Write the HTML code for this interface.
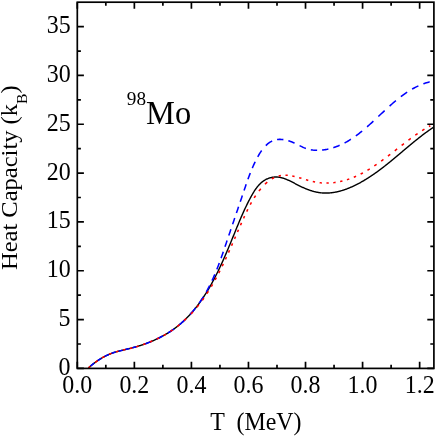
<!DOCTYPE html>
<html><head><meta charset="utf-8"><title>98Mo heat capacity</title>
<style>
html,body{margin:0;padding:0;background:#fff;}
body{width:436px;height:436px;overflow:hidden;}
svg{display:block;} .t{filter:grayscale(1);}
text{font-family:"Liberation Serif",serif;fill:#000;}
</style></head><body>
<svg width="436" height="436" viewBox="0 0 436 436">
<rect width="436" height="436" fill="#fff"/>
<g fill="none" stroke-linejoin="round">
<path d="M88.42,367.92 L88.92,367.47 L89.42,367.03 L89.92,366.60 L90.42,366.17 L90.92,365.75 L91.42,365.34 L91.92,364.93 L92.42,364.53 L92.92,364.13 L93.42,363.74 L93.92,363.35 L94.42,362.97 L94.92,362.60 L95.42,362.23 L95.92,361.87 L96.42,361.51 L96.92,361.16 L97.42,360.82 L97.92,360.48 L98.42,360.14 L98.92,359.82 L99.42,359.49 L99.92,359.17 L100.42,358.86 L100.92,358.56 L101.42,358.25 L101.92,357.96 L102.42,357.67 L102.92,357.38 L103.42,357.10 L103.92,356.83 L104.42,356.56 L104.92,356.30 L105.42,356.04 L105.92,355.79 L106.42,355.55 L106.92,355.31 L107.42,355.07 L107.92,354.84 L108.42,354.62 L108.92,354.40 L109.42,354.19 L109.92,353.98 L110.42,353.78 L110.92,353.59 L111.42,353.40 L111.92,353.21 L112.42,353.04 L112.92,352.86 L113.42,352.69 L113.92,352.53 L114.42,352.37 L114.92,352.21 L115.42,352.06 L115.92,351.91 L116.42,351.76 L116.92,351.62 L117.42,351.48 L117.92,351.34 L118.42,351.21 L118.92,351.07 L119.42,350.94 L119.92,350.82 L120.42,350.69 L120.92,350.57 L121.42,350.44 L121.92,350.32 L122.42,350.20 L122.92,350.09 L123.42,349.97 L123.92,349.85 L124.42,349.73 L124.92,349.62 L125.42,349.50 L125.92,349.39 L126.42,349.27 L126.92,349.15 L127.42,349.04 L127.92,348.92 L128.42,348.80 L128.92,348.68 L129.42,348.56 L129.92,348.44 L130.42,348.32 L130.92,348.19 L131.42,348.07 L131.92,347.94 L132.42,347.81 L132.92,347.68 L133.42,347.54 L133.92,347.41 L134.42,347.27 L134.92,347.13 L135.42,346.99 L135.92,346.85 L136.42,346.70 L136.92,346.56 L137.42,346.41 L137.92,346.26 L138.42,346.10 L138.92,345.95 L139.42,345.79 L139.92,345.64 L140.42,345.48 L140.92,345.31 L141.42,345.15 L141.92,344.98 L142.42,344.82 L142.92,344.65 L143.42,344.47 L143.92,344.30 L144.42,344.12 L144.92,343.94 L145.42,343.76 L145.92,343.58 L146.42,343.40 L146.92,343.21 L147.42,343.02 L147.92,342.83 L148.42,342.63 L148.92,342.44 L149.42,342.24 L149.92,342.04 L150.42,341.84 L150.92,341.63 L151.42,341.42 L151.92,341.21 L152.42,341.00 L152.92,340.79 L153.42,340.57 L153.92,340.35 L154.42,340.13 L154.92,339.90 L155.42,339.67 L155.92,339.44 L156.42,339.21 L156.92,338.97 L157.42,338.73 L157.92,338.49 L158.42,338.25 L158.92,338.00 L159.42,337.75 L159.92,337.50 L160.42,337.24 L160.92,336.98 L161.42,336.72 L161.92,336.46 L162.42,336.19 L162.92,335.92 L163.42,335.64 L163.92,335.36 L164.42,335.08 L164.92,334.80 L165.42,334.51 L165.92,334.22 L166.42,333.92 L166.92,333.62 L167.42,333.32 L167.92,333.01 L168.42,332.70 L168.92,332.39 L169.42,332.07 L169.92,331.74 L170.42,331.42 L170.92,331.09 L171.42,330.75 L171.92,330.41 L172.42,330.07 L172.92,329.72 L173.42,329.36 L173.92,329.00 L174.42,328.64 L174.92,328.27 L175.42,327.90 L175.92,327.52 L176.42,327.14 L176.92,326.75 L177.42,326.35 L177.92,325.95 L178.42,325.55 L178.92,325.14 L179.42,324.73 L179.92,324.31 L180.42,323.88 L180.92,323.45 L181.42,323.01 L181.92,322.57 L182.42,322.12 L182.92,321.67 L183.42,321.21 L183.92,320.74 L184.42,320.27 L184.92,319.79 L185.42,319.31 L185.92,318.82 L186.42,318.32 L186.92,317.82 L187.42,317.31 L187.92,316.80 L188.42,316.28 L188.92,315.75 L189.42,315.22 L189.92,314.67 L190.42,314.13 L190.92,313.57 L191.42,313.01 L191.92,312.44 L192.42,311.86 L192.92,311.28 L193.42,310.69 L193.92,310.09 L194.42,309.49 L194.92,308.88 L195.42,308.26 L195.92,307.63 L196.42,307.00 L196.92,306.35 L197.42,305.70 L197.92,305.05 L198.42,304.38 L198.92,303.71 L199.42,303.02 L199.92,302.33 L200.42,301.63 L200.92,300.93 L201.42,300.21 L201.92,299.49 L202.42,298.76 L202.92,298.01 L203.42,297.26 L203.92,296.51 L204.42,295.74 L204.92,294.96 L205.42,294.18 L205.92,293.38 L206.42,292.58 L206.92,291.77 L207.42,290.94 L207.92,290.11 L208.42,289.27 L208.92,288.42 L209.42,287.56 L209.92,286.69 L210.42,285.81 L210.92,284.93 L211.42,284.03 L211.92,283.12 L212.42,282.20 L212.92,281.28 L213.42,280.34 L213.92,279.39 L214.42,278.44 L214.92,277.47 L215.42,276.50 L215.92,275.51 L216.42,274.52 L216.92,273.51 L217.42,272.50 L217.92,271.47 L218.42,270.44 L218.92,269.40 L219.42,268.35 L219.92,267.28 L220.42,266.21 L220.92,265.14 L221.42,264.05 L221.92,262.95 L222.42,261.84 L222.92,260.73 L223.42,259.61 L223.92,258.48 L224.42,257.34 L224.92,256.20 L225.42,255.04 L225.92,253.89 L226.42,252.72 L226.92,251.55 L227.42,250.37 L227.92,249.18 L228.42,247.99 L228.92,246.80 L229.42,245.60 L229.92,244.40 L230.42,243.19 L230.92,241.98 L231.42,240.76 L231.92,239.55 L232.42,238.33 L232.92,237.11 L233.42,235.89 L233.92,234.66 L234.42,233.44 L234.92,232.22 L235.42,231.00 L235.92,229.78 L236.42,228.56 L236.92,227.35 L237.42,226.13 L237.92,224.93 L238.42,223.72 L238.92,222.52 L239.42,221.33 L239.92,220.14 L240.42,218.96 L240.92,217.79 L241.42,216.63 L241.92,215.48 L242.42,214.35 L242.92,213.22 L243.42,212.10 L243.92,211.00 L244.42,209.91 L244.92,208.83 L245.42,207.77 L245.92,206.72 L246.42,205.68 L246.92,204.66 L247.42,203.64 L247.92,202.65 L248.42,201.66 L248.92,200.68 L249.42,199.72 L249.92,198.77 L250.42,197.83 L250.92,196.91 L251.42,196.00 L251.92,195.11 L252.42,194.23 L252.92,193.38 L253.42,192.55 L253.92,191.75 L254.42,190.97 L254.92,190.21 L255.42,189.47 L255.92,188.76 L256.42,188.08 L256.92,187.42 L257.42,186.78 L257.92,186.17 L258.42,185.58 L258.92,185.02 L259.42,184.48 L259.92,183.97 L260.42,183.48 L260.92,183.01 L261.42,182.56 L261.92,182.14 L262.42,181.74 L262.92,181.36 L263.42,181.00 L263.92,180.66 L264.42,180.34 L264.92,180.03 L265.42,179.75 L265.92,179.48 L266.42,179.23 L266.92,178.99 L267.42,178.77 L267.92,178.56 L268.42,178.37 L268.92,178.19 L269.42,178.02 L269.92,177.87 L270.42,177.73 L270.92,177.60 L271.42,177.49 L271.92,177.39 L272.42,177.30 L272.92,177.22 L273.42,177.15 L273.92,177.10 L274.42,177.06 L274.92,177.03 L275.42,177.01 L275.92,177.00 L276.42,177.01 L276.92,177.03 L277.42,177.06 L277.92,177.10 L278.42,177.16 L278.92,177.22 L279.42,177.30 L279.92,177.39 L280.42,177.49 L280.92,177.60 L281.42,177.72 L281.92,177.84 L282.42,177.98 L282.92,178.13 L283.42,178.29 L283.92,178.45 L284.42,178.62 L284.92,178.80 L285.42,178.99 L285.92,179.19 L286.42,179.39 L286.92,179.60 L287.42,179.81 L287.92,180.03 L288.42,180.25 L288.92,180.48 L289.42,180.72 L289.92,180.96 L290.42,181.20 L290.92,181.45 L291.42,181.70 L291.92,181.95 L292.42,182.20 L292.92,182.46 L293.42,182.72 L293.92,182.98 L294.42,183.24 L294.92,183.50 L295.42,183.76 L295.92,184.02 L296.42,184.29 L296.92,184.55 L297.42,184.81 L297.92,185.06 L298.42,185.32 L298.92,185.58 L299.42,185.83 L299.92,186.08 L300.42,186.32 L300.92,186.57 L301.42,186.81 L301.92,187.04 L302.42,187.28 L302.92,187.51 L303.42,187.73 L303.92,187.95 L304.42,188.17 L304.92,188.39 L305.42,188.60 L305.92,188.80 L306.42,189.00 L306.92,189.20 L307.42,189.40 L307.92,189.59 L308.42,189.77 L308.92,189.95 L309.42,190.13 L309.92,190.30 L310.42,190.47 L310.92,190.63 L311.42,190.79 L311.92,190.94 L312.42,191.09 L312.92,191.23 L313.42,191.37 L313.92,191.51 L314.42,191.63 L314.92,191.76 L315.42,191.88 L315.92,191.99 L316.42,192.10 L316.92,192.20 L317.42,192.30 L317.92,192.39 L318.42,192.47 L318.92,192.55 L319.42,192.63 L319.92,192.70 L320.42,192.76 L320.92,192.82 L321.42,192.87 L321.92,192.91 L322.42,192.95 L322.92,192.99 L323.42,193.01 L323.92,193.04 L324.42,193.05 L324.92,193.07 L325.42,193.07 L325.92,193.07 L326.42,193.07 L326.92,193.06 L327.42,193.04 L327.92,193.02 L328.42,193.00 L328.92,192.97 L329.42,192.93 L329.92,192.89 L330.42,192.85 L330.92,192.80 L331.42,192.74 L331.92,192.69 L332.42,192.62 L332.92,192.55 L333.42,192.48 L333.92,192.40 L334.42,192.32 L334.92,192.23 L335.42,192.14 L335.92,192.04 L336.42,191.94 L336.92,191.83 L337.42,191.72 L337.92,191.61 L338.42,191.49 L338.92,191.37 L339.42,191.24 L339.92,191.11 L340.42,190.98 L340.92,190.84 L341.42,190.69 L341.92,190.55 L342.42,190.39 L342.92,190.24 L343.42,190.08 L343.92,189.92 L344.42,189.75 L344.92,189.58 L345.42,189.40 L345.92,189.22 L346.42,189.04 L346.92,188.85 L347.42,188.66 L347.92,188.47 L348.42,188.27 L348.92,188.07 L349.42,187.87 L349.92,187.66 L350.42,187.45 L350.92,187.23 L351.42,187.02 L351.92,186.79 L352.42,186.57 L352.92,186.34 L353.42,186.11 L353.92,185.87 L354.42,185.63 L354.92,185.39 L355.42,185.15 L355.92,184.90 L356.42,184.65 L356.92,184.39 L357.42,184.14 L357.92,183.88 L358.42,183.61 L358.92,183.34 L359.42,183.08 L359.92,182.80 L360.42,182.53 L360.92,182.25 L361.42,181.97 L361.92,181.68 L362.42,181.40 L362.92,181.11 L363.42,180.81 L363.92,180.52 L364.42,180.22 L364.92,179.92 L365.42,179.62 L365.92,179.31 L366.42,179.00 L366.92,178.69 L367.42,178.38 L367.92,178.06 L368.42,177.75 L368.92,177.43 L369.42,177.10 L369.92,176.78 L370.42,176.45 L370.92,176.12 L371.42,175.78 L371.92,175.45 L372.42,175.11 L372.92,174.77 L373.42,174.43 L373.92,174.08 L374.42,173.73 L374.92,173.38 L375.42,173.03 L375.92,172.67 L376.42,172.32 L376.92,171.96 L377.42,171.60 L377.92,171.23 L378.42,170.87 L378.92,170.50 L379.42,170.13 L379.92,169.76 L380.42,169.38 L380.92,169.01 L381.42,168.63 L381.92,168.25 L382.42,167.87 L382.92,167.48 L383.42,167.10 L383.92,166.71 L384.42,166.32 L384.92,165.93 L385.42,165.54 L385.92,165.14 L386.42,164.75 L386.92,164.35 L387.42,163.95 L387.92,163.55 L388.42,163.15 L388.92,162.74 L389.42,162.34 L389.92,161.93 L390.42,161.53 L390.92,161.12 L391.42,160.71 L391.92,160.30 L392.42,159.88 L392.92,159.47 L393.42,159.06 L393.92,158.64 L394.42,158.23 L394.92,157.81 L395.42,157.39 L395.92,156.97 L396.42,156.56 L396.92,156.14 L397.42,155.72 L397.92,155.30 L398.42,154.87 L398.92,154.45 L399.42,154.03 L399.92,153.61 L400.42,153.19 L400.92,152.76 L401.42,152.34 L401.92,151.92 L402.42,151.50 L402.92,151.07 L403.42,150.65 L403.92,150.23 L404.42,149.81 L404.92,149.39 L405.42,148.96 L405.92,148.54 L406.42,148.12 L406.92,147.70 L407.42,147.28 L407.92,146.86 L408.42,146.44 L408.92,146.03 L409.42,145.61 L409.92,145.19 L410.42,144.78 L410.92,144.36 L411.42,143.95 L411.92,143.54 L412.42,143.13 L412.92,142.71 L413.42,142.31 L413.92,141.90 L414.42,141.49 L414.92,141.08 L415.42,140.68 L415.92,140.28 L416.42,139.88 L416.92,139.48 L417.42,139.08 L417.92,138.68 L418.42,138.28 L418.92,137.89 L419.42,137.50 L419.92,137.11 L420.42,136.72 L420.92,136.33 L421.42,135.95 L421.92,135.56 L422.42,135.18 L422.92,134.80 L423.42,134.42 L423.92,134.05 L424.42,133.67 L424.92,133.30 L425.42,132.93 L425.92,132.56 L426.42,132.20 L426.92,131.83 L427.42,131.47 L427.92,131.11 L428.42,130.76 L428.92,130.40 L429.42,130.05 L429.92,129.70 L430.42,129.35 L430.92,129.00 L431.42,128.66 L431.92,128.32 L432.42,127.98 L432.92,127.64 L433.42,127.31" stroke="#000" stroke-width="1.4"/>
<path d="M90.70,365.94 L91.83,365.00 L92.97,364.10 L94.10,363.22 M97.70,360.63 L98.62,360.01 L99.55,359.41 L100.48,358.83 L101.40,358.27 M104.60,356.47 L105.65,355.93 L106.70,355.41 L107.75,354.92 L108.80,354.46 M111.50,353.37 L112.53,353.00 L113.55,352.65 L114.57,352.32 L115.60,352.00 M118.50,351.19 L119.53,350.92 L120.55,350.66 L121.57,350.41 L122.60,350.16 M125.40,349.51 L126.43,349.27 L127.45,349.03 L128.47,348.79 L129.50,348.54 M132.40,347.81 L133.40,347.55 L134.40,347.28 L135.40,347.00 L136.40,346.71 M145.33,343.80 L146.38,343.41 L147.43,343.02 L148.48,342.61 L149.53,342.20 L150.58,341.77 L151.63,341.34 M156.58,339.14 L157.63,338.64 L158.68,338.12 L159.73,337.60 L160.78,337.06 L161.83,336.51 L162.88,335.94 M167.83,333.07 L168.88,332.41 L169.93,331.74 L170.98,331.05 L172.03,330.34 L173.08,329.61 L174.13,328.85 M179.08,325.01 L180.13,324.13 L181.18,323.22 L182.23,322.29 L183.28,321.33 L184.33,320.34 L185.38,319.33 M190.11,314.38 L191.05,313.33 L191.97,312.28 L192.87,311.23 L193.75,310.18 L194.60,309.13 L195.44,308.08 M199.15,303.13 L199.89,302.08 L200.62,301.03 L201.32,299.98 L202.01,298.93 L202.69,297.88 L203.35,296.83 M206.29,291.87 L206.88,290.82 L207.45,289.77 L208.02,288.72 L208.57,287.67 L209.11,286.62 L209.65,285.57 M212.04,280.62 L212.52,279.57 L213.00,278.52 L213.46,277.47 L213.92,276.42 L214.38,275.37 L214.83,274.32 M216.85,269.37 L217.27,268.32 L217.68,267.27 L218.08,266.22 L218.48,265.17 L218.88,264.12 L219.27,263.07 M221.08,258.12 L221.45,257.07 L221.82,256.02 L222.19,254.97 L222.55,253.92 L222.92,252.87 L223.28,251.82 M224.97,246.86 L225.33,245.81 L225.68,244.76 L226.04,243.71 L226.39,242.66 L226.74,241.61 L227.10,240.56 M228.77,235.61 L229.13,234.56 L229.49,233.51 L229.84,232.46 L230.20,231.41 L230.55,230.36 L230.91,229.31 M232.59,224.36 L232.95,223.31 L233.31,222.26 L233.66,221.21 L234.02,220.16 L234.38,219.11 L234.73,218.06 M236.42,213.11 L236.78,212.06 L237.13,211.01 L237.49,209.96 L237.85,208.91 L238.20,207.86 L238.56,206.81 M240.24,201.85 L240.60,200.80 L240.95,199.75 L241.31,198.70 L241.66,197.65 L242.02,196.60 L242.37,195.55 M244.05,190.60 L244.40,189.55 L244.76,188.50 L245.11,187.45 L245.47,186.40 L245.82,185.35 L246.18,184.30 M247.92,179.35 L248.30,178.30 L248.68,177.25 L249.07,176.20 L249.47,175.15 L249.87,174.10 L250.28,173.05 M252.31,168.09 L252.76,167.04 L253.22,165.99 L253.69,164.94 L254.18,163.89 L254.67,162.84 L255.17,161.79 M257.73,156.84 L258.32,155.79 L258.93,154.74 L259.57,153.69 L260.23,152.64 L260.93,151.59 L261.66,150.54 M265.82,145.59 L266.87,144.60 L267.92,143.70 L268.97,142.90 L270.02,142.19 L271.07,141.57 L272.12,141.03 M277.07,139.54 L278.12,139.43 L279.17,139.37 L280.22,139.37 L281.27,139.41 L282.32,139.50 L283.37,139.64 M288.33,140.76 L289.38,141.09 L290.43,141.44 L291.48,141.83 L292.53,142.25 L293.58,142.69 L294.63,143.16 M299.58,145.62 L300.63,146.15 L301.68,146.67 L302.73,147.17 L303.78,147.64 L304.83,148.07 L305.88,148.47 M310.83,149.75 L311.88,149.92 L312.93,150.06 L313.98,150.16 L315.03,150.23 L316.08,150.28 L317.13,150.30 M322.08,150.04 L323.13,149.92 L324.18,149.78 L325.23,149.62 L326.28,149.43 L327.33,149.23 L328.38,149.00 M333.34,147.67 L334.39,147.33 L335.44,146.97 L336.49,146.59 L337.54,146.19 L338.59,145.77 L339.64,145.32 M344.59,142.95 L345.64,142.39 L346.69,141.81 L347.74,141.21 L348.79,140.58 L349.84,139.94 L350.89,139.28 M355.84,135.90 L356.89,135.13 L357.94,134.34 L358.99,133.54 L360.04,132.72 L361.09,131.88 L362.14,131.03 M367.09,126.83 L368.14,125.91 L369.19,124.97 L370.24,124.03 L371.29,123.07 L372.34,122.11 L373.39,121.14 M378.35,116.52 L379.40,115.53 L380.45,114.54 L381.50,113.55 L382.55,112.57 L383.60,111.59 L384.65,110.61 M389.60,106.08 L390.65,105.14 L391.70,104.21 L392.75,103.29 L393.80,102.39 L394.85,101.50 L395.90,100.62 M400.85,96.67 L401.90,95.87 L402.95,95.10 L404.00,94.34 L405.05,93.60 L406.10,92.88 L407.15,92.18 M412.10,89.12 L413.15,88.52 L414.20,87.95 L415.25,87.40 L416.30,86.87 L417.35,86.36 L418.40,85.86 M423.36,83.82 L424.41,83.44 L425.46,83.08 L426.51,82.75 L427.56,82.43 L428.61,82.13 L429.66,81.86" stroke="#0000ff" stroke-width="1.55"/>
<path d="M88.43,367.91 L89.20,367.23 L90.35,366.23 M95.25,362.36 L96.40,361.53 L97.55,360.73 M102.15,357.83 L103.30,357.17 L104.45,356.55 M109.15,354.31 L110.30,353.83 L111.45,353.39 M116.05,351.87 L117.20,351.54 L118.35,351.23 M123.05,350.06 L124.20,349.79 L125.35,349.52 M129.95,348.43 L131.10,348.15 L132.25,347.85 M136.26,346.75 L137.41,346.41 L138.56,346.06 M143.09,344.59 L144.24,344.19 L145.39,343.78 M149.92,342.04 L151.07,341.57 L152.22,341.09 M156.76,339.05 L157.91,338.50 L159.06,337.93 M163.59,335.55 L164.74,334.90 L165.89,334.24 M170.42,331.42 L171.57,330.65 L172.72,329.86 M177.26,326.49 L178.41,325.57 L179.56,324.62 M184.09,320.61 L185.24,319.54 L186.39,318.46 M190.89,314.06 L191.97,312.91 L193.02,311.76 M196.94,307.22 L197.88,306.07 L198.80,304.92 M202.24,300.39 L203.07,299.24 L203.89,298.09 M206.96,293.56 L207.71,292.41 L208.44,291.26 M211.23,286.72 L211.91,285.57 L212.58,284.42 M215.14,279.89 L215.77,278.74 L216.39,277.59 M218.77,273.06 L219.36,271.91 L219.94,270.76 M222.18,266.22 L222.73,265.07 L223.29,263.92 M225.41,259.39 L225.95,258.24 L226.47,257.09 M228.52,252.56 L229.04,251.41 L229.55,250.26 M231.55,245.72 L232.05,244.57 L232.55,243.42 M234.52,238.89 L235.02,237.74 L235.52,236.59 M237.49,232.06 L237.99,230.91 L238.49,229.76 M240.48,225.22 L240.99,224.07 L241.50,222.92 M243.54,218.39 L244.07,217.24 L244.59,216.09 M246.72,211.56 L247.28,210.41 L247.84,209.26 M250.18,204.72 L250.80,203.57 L251.44,202.42 M254.14,197.89 L254.88,196.74 L255.64,195.59 M258.91,191.06 L259.82,189.91 L260.77,188.76 M264.96,184.24 L266.11,183.16 L267.26,182.16 M271.79,178.93 L272.94,178.29 L274.09,177.72 M278.63,176.11 L279.78,175.84 L280.93,175.62 M285.46,175.25 L286.61,175.27 L287.76,175.33 M292.29,175.95 L293.44,176.19 L294.59,176.44 M299.13,177.65 L300.28,177.99 L301.43,178.34 M305.96,179.72 L307.11,180.06 L308.26,180.40 M312.79,181.57 L313.94,181.82 L315.09,182.05 M319.63,182.71 L320.78,182.83 L321.93,182.92 M326.46,183.07 L327.61,183.06 L328.76,183.02 M333.29,182.68 L334.44,182.55 L335.59,182.39 M340.13,181.58 L341.28,181.32 L342.43,181.04 M346.96,179.75 L348.11,179.37 L349.26,178.98 M353.79,177.23 L354.94,176.74 L356.09,176.23 M360.63,174.04 L361.78,173.44 L362.93,172.83 M367.46,170.25 L368.61,169.56 L369.76,168.85 M374.29,165.92 L375.44,165.15 L376.59,164.36 M381.13,161.15 L382.28,160.31 L383.43,159.47 M387.96,156.06 L389.11,155.18 L390.26,154.29 M394.79,150.77 L395.94,149.87 L397.09,148.97 M401.63,145.42 L402.78,144.53 L403.93,143.64 M408.46,140.18 L409.61,139.32 L410.76,138.46 M415.29,135.19 L416.44,134.38 L417.59,133.59 M422.13,130.59 L423.28,129.87 L424.43,129.16 M428.96,126.52 L430.33,125.78" stroke="#ff0000" stroke-width="1.55"/>
</g>
<path d="M77.30,368.4 v-6.6 M77.30,2.2 v6.6 M105.83,368.4 v-3.6 M105.83,2.2 v3.6 M134.36,368.4 v-6.6 M134.36,2.2 v6.6 M162.88,368.4 v-3.6 M162.88,2.2 v3.6 M191.41,368.4 v-6.6 M191.41,2.2 v6.6 M219.94,368.4 v-3.6 M219.94,2.2 v3.6 M248.47,368.4 v-6.6 M248.47,2.2 v6.6 M277.00,368.4 v-3.6 M277.00,2.2 v3.6 M305.52,368.4 v-6.6 M305.52,2.2 v6.6 M334.05,368.4 v-3.6 M334.05,2.2 v3.6 M362.58,368.4 v-6.6 M362.58,2.2 v6.6 M391.11,368.4 v-3.6 M391.11,2.2 v3.6 M419.64,368.4 v-6.6 M419.64,2.2 v6.6 M77.3,368.40 h6.6 M433.9,368.40 h-6.6 M77.3,343.99 h3.6 M433.9,343.99 h-3.6 M77.3,319.57 h6.6 M433.9,319.57 h-6.6 M77.3,295.16 h3.6 M433.9,295.16 h-3.6 M77.3,270.75 h6.6 M433.9,270.75 h-6.6 M77.3,246.33 h3.6 M433.9,246.33 h-3.6 M77.3,221.92 h6.6 M433.9,221.92 h-6.6 M77.3,197.51 h3.6 M433.9,197.51 h-3.6 M77.3,173.09 h6.6 M433.9,173.09 h-6.6 M77.3,148.68 h3.6 M433.9,148.68 h-3.6 M77.3,124.27 h6.6 M433.9,124.27 h-6.6 M77.3,99.85 h3.6 M433.9,99.85 h-3.6 M77.3,75.44 h6.6 M433.9,75.44 h-6.6 M77.3,51.03 h3.6 M433.9,51.03 h-3.6 M77.3,26.61 h6.6 M433.9,26.61 h-6.6" stroke="#000" stroke-width="1.7" fill="none"/>
<rect x="77.3" y="2.2" width="356.60" height="366.20" fill="none" stroke="#000" stroke-width="1.7"/>
<g class="t"><g font-size="24.9">
<text transform="translate(77.30,393.2) scale(0.962,1)" text-anchor="middle">0.0</text>
<text transform="translate(134.36,393.2) scale(0.962,1)" text-anchor="middle">0.2</text>
<text transform="translate(191.41,393.2) scale(0.962,1)" text-anchor="middle">0.4</text>
<text transform="translate(248.47,393.2) scale(0.962,1)" text-anchor="middle">0.6</text>
<text transform="translate(305.52,393.2) scale(0.962,1)" text-anchor="middle">0.8</text>
<text transform="translate(362.58,393.2) scale(0.962,1)" text-anchor="middle">1.0</text>
<text transform="translate(419.64,393.2) scale(0.962,1)" text-anchor="middle">1.2</text>
<text transform="translate(70.6,374.90) scale(0.962,1)" text-anchor="end">0</text>
<text transform="translate(70.6,326.07) scale(0.962,1)" text-anchor="end">5</text>
<text transform="translate(70.6,277.25) scale(0.962,1)" text-anchor="end">10</text>
<text transform="translate(70.6,228.42) scale(0.962,1)" text-anchor="end">15</text>
<text transform="translate(70.6,179.59) scale(0.962,1)" text-anchor="end">20</text>
<text transform="translate(70.6,130.77) scale(0.962,1)" text-anchor="end">25</text>
<text transform="translate(70.6,81.94) scale(0.962,1)" text-anchor="end">30</text>
<text transform="translate(70.6,33.11) scale(0.962,1)" text-anchor="end">35</text>
</g>
<text transform="translate(255.9,430.0) scale(0.985,1)" font-size="24.3" text-anchor="middle" xml:space="preserve">T  (MeV)</text>
<text transform="translate(17.2,177.75) rotate(-90) scale(1,0.955)" font-size="24.53" text-anchor="middle">Heat Capacity (k<tspan font-size="15.6" dy="10.6">B</tspan><tspan dy="-10.6">)</tspan></text>
<text x="126.8" y="104.8" font-size="19.2">98</text>
<text transform="translate(146,123.6) scale(0.95,1)" font-size="34.2">Mo</text>
</g>
</svg>
</body></html>
